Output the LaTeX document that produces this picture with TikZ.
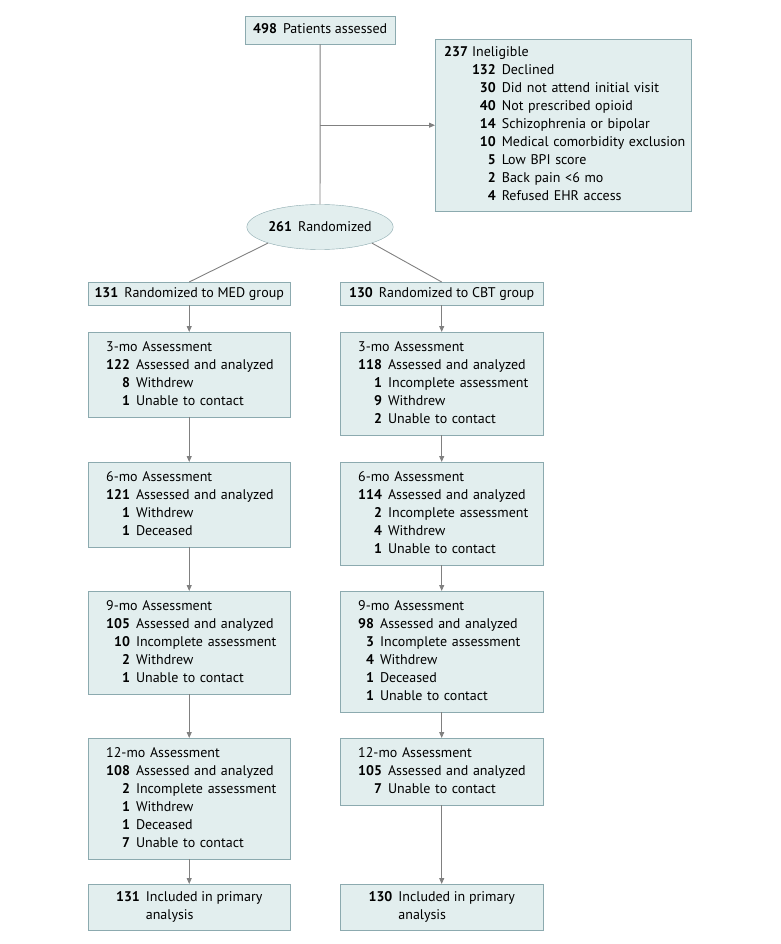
\documentclass[tikz,border=0pt]{standalone}
\usepackage{fontspec}
\setmainfont{PT Sans}
\usetikzlibrary{shapes.geometric,arrows.meta}
\definecolor{boxfill}{RGB}{226,238,238}
\definecolor{boxline}{RGB}{140,170,175}
\definecolor{arrowgray}{RGB}{128,128,128}
\setlength{\parindent}{0pt}

\begin{document}
\begin{tikzpicture}[
    x = 1pt, y = -1pt,
    every node/.style={ draw = boxline, fill = boxfill, rectangle,
      font = \fontsize{14}{18}\selectfont, anchor = north west },
    plainbox/.style = { inner xsep = 8pt, inner ysep = 5pt, align = center },
    armbox/.style = { minimum width = 202pt, inner ysep = 2.5pt, align = center },
    listbox/.style = { inner xsep = 18pt, text width = 166pt, inner ysep = 6.5pt, align = left },
    flow/.style = { draw = arrowgray, line width = 0.9pt },
    arrow/.style = { flow, -{Triangle[length=6pt,width=5pt]} }
    ]
  \useasboundingbox (0,0) rectangle (780,944);
  \node[plainbox, minimum width = 150pt] (assessed) at (245,16)
    {\strut\textbf{498}\hspace{6pt}Patients assessed};
  \node[inner xsep = 9pt, inner ysep = 5pt, text width = 238pt, align = left] (inel) at (435,39)
    {\begin{tabular}{@{}l@{\hspace{4pt}}r@{\hspace{6pt}}l@{}}
      \textbf{237} & \multicolumn{2}{@{}l@{}}{Ineligible}\\
      & \textbf{132} & Declined\\
      & \textbf{30} & Did not attend initial visit\\
      & \textbf{40} & Not prescribed opioid\\
      & \textbf{14} & Schizophrenia or bipolar\\
      & \textbf{10} & Medical comorbidity exclusion\\
      & \textbf{5} & Low BPI score\\
      & \textbf{2} & Back pain <6 mo\\
      & \textbf{4} & Refused EHR access
    \end{tabular}};
  \node[ellipse, anchor = center, minimum width = 145pt, minimum height = 45pt, inner sep = 0pt] (rand) at (320,227)
    {\textbf{261}\hspace{6pt}Randomized};
  \node[armbox] (med) at (88,282) {\strut\textbf{131}\hspace{6pt}Randomized to MED group};
  \node[armbox, minimum width = 203pt] (cbt) at (340,282) {\strut\textbf{130}\hspace{6pt}Randomized to CBT group};
  \node[listbox] (med3) at (88,332)
    {\begin{tabular}{@{}r@{\hspace{6pt}}l@{}}
      \multicolumn{2}{@{}l@{}}{3-mo Assessment}\\
      \textbf{122} & Assessed and analyzed\\
      \textbf{8} & Withdrew\\
      \textbf{1} & Unable to contact
    \end{tabular}};
  \node[listbox, text width = 167pt] (cbt3) at (340,332)
    {\begin{tabular}{@{}r@{\hspace{6pt}}l@{}}
      \multicolumn{2}{@{}l@{}}{3-mo Assessment}\\
      \textbf{118} & Assessed and analyzed\\
      \textbf{1} & Incomplete assessment\\
      \textbf{9} & Withdrew\\
      \textbf{2} & Unable to contact
    \end{tabular}};
  \node[listbox] (med6) at (88,462)
    {\begin{tabular}{@{}r@{\hspace{6pt}}l@{}}
      \multicolumn{2}{@{}l@{}}{6-mo Assessment}\\
      \textbf{121} & Assessed and analyzed\\
      \textbf{1} & Withdrew\\
      \textbf{1} & Deceased
    \end{tabular}};
  \node[listbox, text width = 167pt] (cbt6) at (340,462)
    {\begin{tabular}{@{}r@{\hspace{6pt}}l@{}}
      \multicolumn{2}{@{}l@{}}{6-mo Assessment}\\
      \textbf{114} & Assessed and analyzed\\
      \textbf{2} & Incomplete assessment\\
      \textbf{4} & Withdrew\\
      \textbf{1} & Unable to contact
    \end{tabular}};
  \node[listbox] (med9) at (88,591)
    {\begin{tabular}{@{}r@{\hspace{6pt}}l@{}}
      \multicolumn{2}{@{}l@{}}{9-mo Assessment}\\
      \textbf{105} & Assessed and analyzed\\
      \textbf{10} & Incomplete assessment\\
      \textbf{2} & Withdrew\\
      \textbf{1} & Unable to contact
    \end{tabular}};
  \node[listbox, text width = 167pt] (cbt9) at (340,591)
    {\begin{tabular}{@{}r@{\hspace{6pt}}l@{}}
      \multicolumn{2}{@{}l@{}}{9-mo Assessment}\\
      \textbf{98} & Assessed and analyzed\\
      \textbf{3} & Incomplete assessment\\
      \textbf{4} & Withdrew\\
      \textbf{1} & Deceased\\
      \textbf{1} & Unable to contact
    \end{tabular}};
  \node[listbox] (med12) at (88,738)
    {\begin{tabular}{@{}r@{\hspace{6pt}}l@{}}
      \multicolumn{2}{@{}l@{}}{12-mo Assessment}\\
      \textbf{108} & Assessed and analyzed\\
      \textbf{2} & Incomplete assessment\\
      \textbf{1} & Withdrew\\
      \textbf{1} & Deceased\\
      \textbf{7} & Unable to contact
    \end{tabular}};
  \node[listbox, text width = 167pt] (cbt12) at (340,738)
    {\begin{tabular}{@{}r@{\hspace{6pt}}l@{}}
      \multicolumn{2}{@{}l@{}}{12-mo Assessment}\\
      \textbf{105} & Assessed and analyzed\\
      \textbf{7} & Unable to contact
    \end{tabular}};
  \node[plainbox, minimum width = 202pt] (medinc) at (88,884)
    {\begin{tabular}{@{}r@{\hspace{6pt}}l@{}}
      \textbf{131} & Included in primary\\
      & analysis
    \end{tabular}};
  \node[plainbox, minimum width = 203pt] (cbtinc) at (340,884)
    {\begin{tabular}{@{}r@{\hspace{6pt}}l@{}}
      \textbf{130} & Included in primary\\
      & analysis
    \end{tabular}};
\draw[flow] (assessed) -- (rand) ;
\draw[arrow] (assessed |- inel) -- (inel) ;
\draw[flow] (rand.south west) -- (med.north) ;
\draw[flow] (rand.south east) -- (cbt.north) ;
\draw[arrow] (med) -- (med3) ;
\draw[arrow] (med3) -- (med6) ;
\draw[arrow] (med6) -- (med9) ;
\draw[arrow] (med9) -- (med12) ;
\draw[arrow] (med12) -- (medinc) ;
\draw[arrow] (cbt) -- (cbt3) ;
\draw[arrow] (cbt3) -- (cbt6) ;
\draw[arrow] (cbt6) -- (cbt9) ;
\draw[arrow] (cbt9) -- (cbt12) ;
\draw[arrow] (cbt12) -- (cbtinc) ;
  \end{tikzpicture}
\end{document}
